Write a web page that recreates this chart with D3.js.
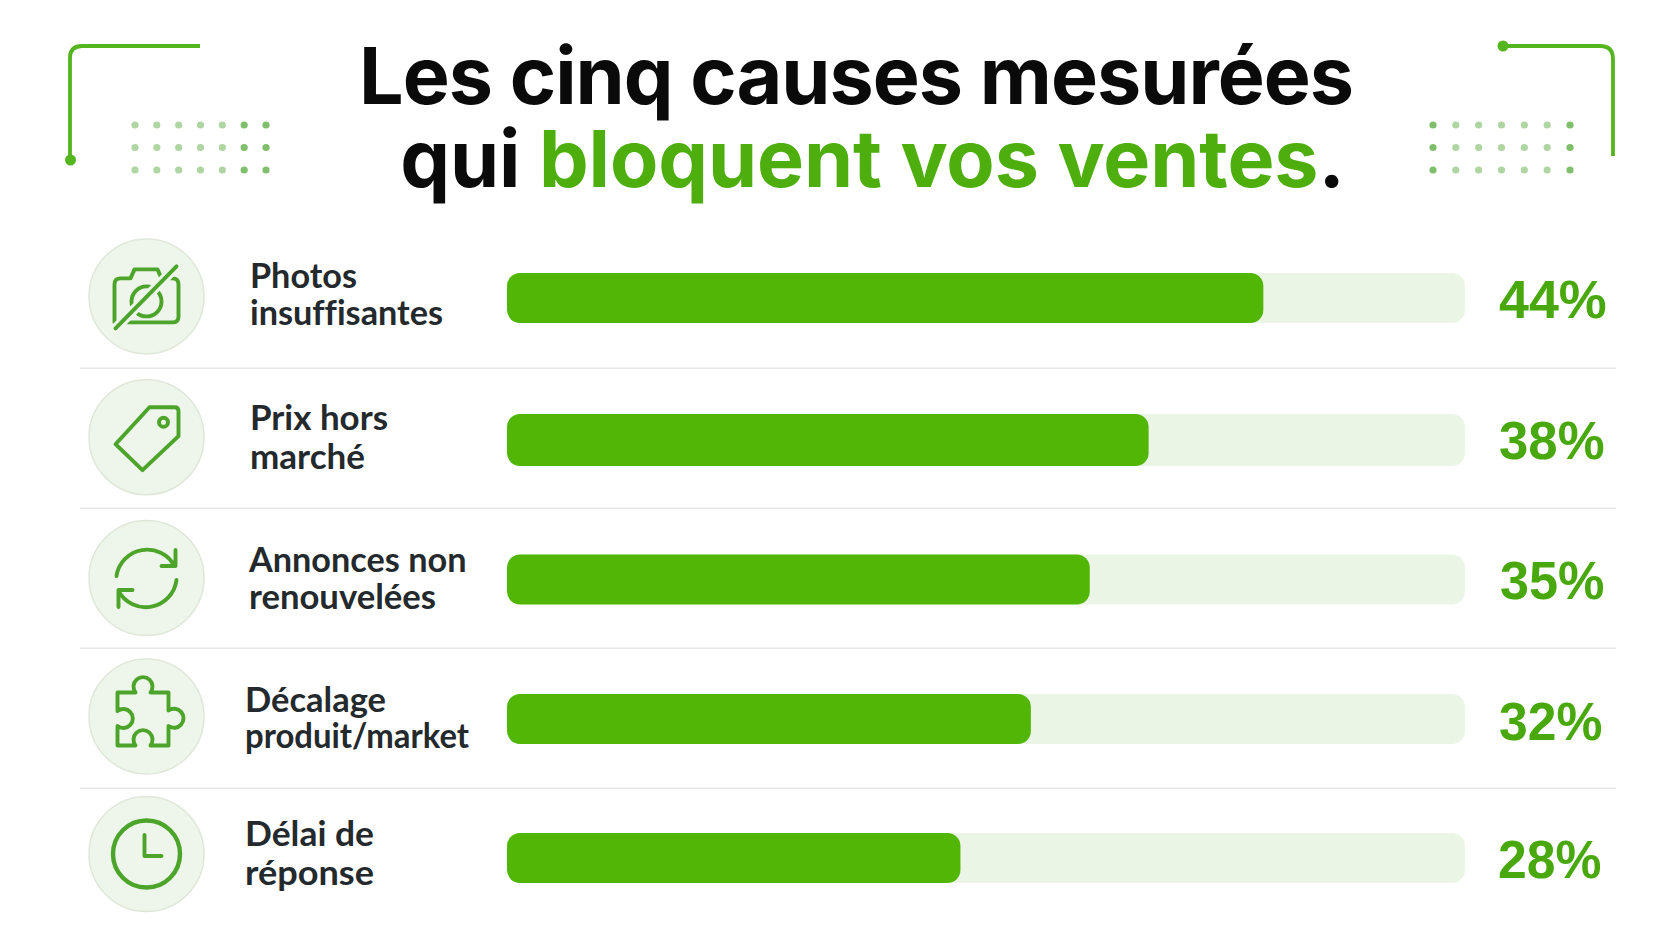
<!DOCTYPE html>
<html lang="fr"><head><meta charset="utf-8">
<script src="https://cdn.jsdelivr.net/npm/d3@7"></script>
<style>html,body{margin:0;padding:0;background:#fff;overflow:hidden}svg{display:block}</style>
</head><body><svg id="c" width="1672" height="941"></svg>
<script>
const categories = ["Photos insuffisantes","Prix hors marché","Annonces non renouvelées","Décalage produit/market","Délai de réponse"];
const labelLines = [["Photos","insuffisantes"],["Prix hors","marché"],["Annonces non","renouvelées"],["Décalage","produit/market"],["Délai de","réponse"]];
// lengths as drawn in the picture (the printed labels are rounded)
const barValues = [44,37.94,34.83,31.72,28];
const valueLabels = ["44%","38%","35%","32%","28%"];
const iconKinds = ["camera","tag","refresh","puzzle","clock"];
const titleLine1 = "Les cinq causes mesurées";
const titleLine2 = ["qui ","bloquent vos ventes","."];

// per-row layout
const labelX=[250,250,249,245,245];
const labelDy=[[-10,27],[-8,31],[-6,31],[-6,30],[-12,27]];
const labelWidths=[[107,193],[138,115],[217.5,187],[141,224],[129,129]];
const barDy=[0,2,1.5,1,0];
const barH=[50,52,50,50,50];
const circleDy=[-1.6,-0.8,0,-1.5,-4];
const valueX=[1499,1499,1500,1499,1498];
const valueW=[107.7,105.6,104.5,103.4,103.4];
const valueDy=[20,21,21,22,20];

const GREEN="#51b606", ICON="#4ca52a", VALUE="#48a80e", TRACK="#ebf5e6", INK="#23292c", DISC="#eef5ea";
const svg=d3.select("#c");
const x=d3.scaleLinear().domain([4.05,54.65]).range([507,1465]);
const y=d3.scaleBand().domain(categories).range([228,928]);

// decorations
const deco=svg.append("g").attr("fill","none").attr("stroke","#55b51e").attr("stroke-width",3.8);
deco.append("path").attr("d","M70,160V58Q70,46 82,46H200");
deco.append("path").attr("d","M1503,46H1600Q1613,46 1613,59V156");
svg.append("circle").attr("cx",70.5).attr("cy",160).attr("r",5.5).attr("fill","#55b51e");
svg.append("circle").attr("cx",1503).attr("cy",46).attr("r",5.5).attr("fill","#55b51e");
const dotCols=d3.range(7), dotRows=d3.range(3);
[d3.scalePoint().domain(dotCols).range([135,266]),d3.scalePoint().domain(dotCols).range([1433,1570])].forEach((sx,k)=>{
  const sy=d3.scalePoint().domain(dotRows).range([125,170]);
  dotRows.forEach(r=>dotCols.forEach(c=>{
    svg.append("circle").attr("cx",sx(c)).attr("cy",sy(r)).attr("r",3.6)
      .attr("fill","#5fae45").attr("opacity",k===0?(c>=5?0.8:0.5):(c===0||c===6?0.8:0.5));
  }));
});

// title
const title=svg.append("g").attr("font-family","Inter").attr("font-weight",700).attr("font-size",79).attr("fill","#0a0a0a");
title.append("text").attr("x",856).attr("y",104).attr("text-anchor","middle").attr("letter-spacing",-1).text(titleLine1);
const t2=title.append("text").attr("x",872.5).attr("y",187).attr("text-anchor","middle").attr("letter-spacing",-0.1);
t2.append("tspan").text(titleLine2[0]);
t2.append("tspan").attr("fill","#4dae0e").text(titleLine2[1]);
t2.append("tspan").text(titleLine2[2]);

// separators
svg.append("g").selectAll("line").data(categories.slice(1)).join("line")
  .attr("x1",80).attr("x2",1616).attr("y1",d=>y(d)+0.25).attr("y2",d=>y(d)+0.25)
  .attr("stroke","#e6e8e5").attr("stroke-width",1.5);

const rows=svg.append("g").selectAll("g").data(categories).join("g")
  .attr("transform",d=>`translate(0,${y(d)+y.bandwidth()/2})`);

// tracks & bars
rows.append("rect").attr("x",x.range()[0]).attr("y",(d,i)=>barDy[i]-barH[i]/2).attr("width",x.range()[1]-x.range()[0]).attr("height",(d,i)=>barH[i]).attr("rx",13).attr("fill",TRACK);
rows.append("rect").attr("x",x.range()[0]).attr("y",(d,i)=>barDy[i]-barH[i]/2).attr("width",(d,i)=>x(barValues[i])-x.range()[0]).attr("height",(d,i)=>barH[i]).attr("rx",13).attr("fill",GREEN);

// value labels
rows.append("text").attr("x",(d,i)=>valueX[i]).attr("y",(d,i)=>valueDy[i])
  .attr("font-family","Liberation Sans").attr("font-weight",700).attr("font-size",53).attr("fill",VALUE)
  .attr("textLength",(d,i)=>valueW[i]).attr("lengthAdjust","spacingAndGlyphs")
  .text((d,i)=>valueLabels[i]);

// labels & icons
rows.each(function(d,i){
  const g=d3.select(this);
  labelLines[i].forEach((s,j)=>{
    g.append("text").attr("x",labelX[i]).attr("y",labelDy[i][j])
      .attr("font-family","Lato").attr("font-weight",700).attr("font-size",34).attr("fill",INK)
      .style("font-variant-ligatures","none")
      .attr("textLength",labelWidths[i][j]).attr("lengthAdjust","spacingAndGlyphs").text(s);
  });
  const ic=g.append("g").attr("transform",`translate(146.5,${circleDy[i]})`);
  ic.append("circle").attr("r",57.5).attr("fill",DISC).attr("stroke","#dfe8d8").attr("stroke-width",1.5);
  const p=ic.append("g").attr("fill","none").attr("stroke",ICON).attr("stroke-width",3.9).attr("stroke-linecap","round").attr("stroke-linejoin","round");
  const k=iconKinds[i];
  if(k==="camera"){
    p.append("path").attr("d","M-32,-12Q-32,-18 -26,-18H-16L-12,-27H11L15,-18H26Q32,-18 32,-12V20Q32,26 26,26H-32Z");
    p.append("circle").attr("cy",5).attr("r",15);
    p.append("line").attr("x1",-31).attr("y1",32).attr("x2",30).attr("y2",-30).attr("stroke",DISC).attr("stroke-width",10);
    p.append("line").attr("x1",-31).attr("y1",32).attr("x2",30).attr("y2",-30);
  } else if(k==="tag"){
    p.append("path").attr("d","M3,-30H28Q32,-30 32,-26V-1L-4,33L-31,7Z");
    p.append("circle").attr("cx",17).attr("cy",-15).attr("r",4.5);
  } else if(k==="refresh"){
    p.append("path").attr("d","M-30,-2A31,31 0 0 1 28,-12M29,-28V-12H15");
    p.append("path").attr("d","M30,2A31,31 0 0 1 -28,13M-28,29V12H-14");
  } else if(k==="puzzle"){
    p.append("path").attr("d","M-29,-24H-11A9.5,9.5 0 1 1 4,-24H22V-6A9.5,9.5 0 1 1 22,9.5V29H4A9.5,9.5 0 1 0 -11,29H-29V9.5A9.5,9.5 0 1 0 -29,-5.5Z");
  } else {
    p.append("circle").attr("r",33.5).attr("stroke-width",4.4);
    p.append("path").attr("d","M-2,-19V2H15");
  }
});
</script></body></html>
